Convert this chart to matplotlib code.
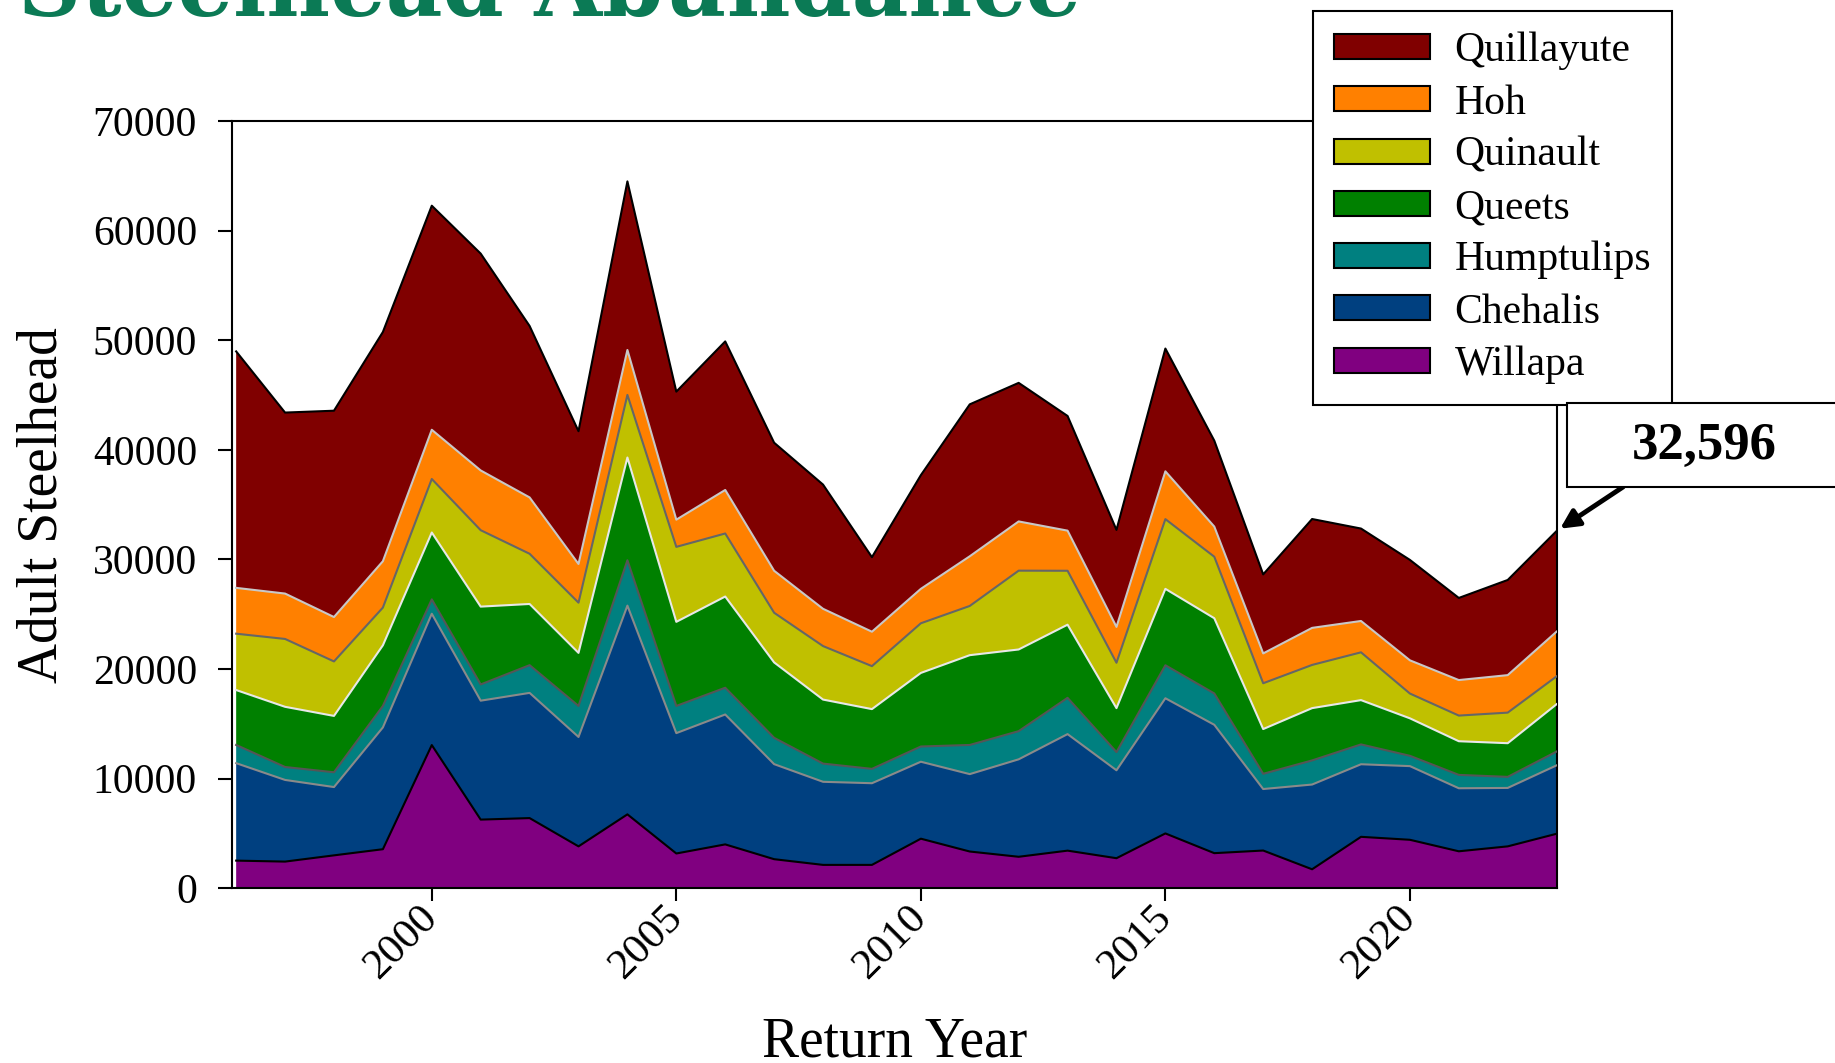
import numpy as np
import matplotlib; matplotlib.use('Agg')
import matplotlib.pyplot as plt
from matplotlib.patches import Patch, Rectangle

plt.rcParams['font.family'] = ['Liberation Serif', 'DejaVu Serif']

years = np.arange(1996, 2024)

willapa = [2530, 2440, 3010, 3570, 13070, 6270, 6410, 3830, 6750, 3180,
           4010, 2660, 2140, 2140, 4530, 3360, 2880, 3440, 2750, 5010,
           3210, 3450, 1740, 4700, 4430, 3380, 3830, 4980]
chehalis = [8890, 7450, 6230, 11110, 11980, 10850, 11420, 9980, 19040, 10980,
            11850, 8670, 7580, 7450, 7020, 7060, 8890, 10630, 8020, 12330,
            11710, 5610, 7730, 6620, 6720, 5750, 5330, 6240]
humptulips = [1660, 1180, 1350, 1960, 1310, 1480, 2530, 2830, 4140, 2480,
              2440, 2400, 1660, 1310, 1390, 2660, 2570, 3310, 1660, 3010,
              2860, 1390, 2200, 1810, 940, 1220, 1010, 1260]
queets = [5010, 5490, 5140, 5530, 6100, 7100, 5580, 4840, 9370, 7670,
          8320, 6880, 5840, 5450, 6710, 8190, 7450, 6670, 4010, 6970,
          6860, 4080, 4770, 4040, 3420, 3070, 3070, 4320]
quinault = [5140, 6190, 4970, 3440, 4880, 6970, 4580, 4580, 5710, 6840,
            5750, 4530, 4880, 3920, 4530, 4490, 7190, 4920, 4140, 6360,
            5610, 4180, 3940, 4360, 2260, 2340, 2790, 2540]
hoh = [4180, 4140, 4050, 4230, 4490, 5450, 5140, 3530, 4100, 2480,
       3970, 3830, 3400, 3140, 3140, 4530, 4490, 3660, 3270, 4360,
       2750, 2720, 3380, 2860, 3030, 3240, 3420, 4080]
quillayute = [21570, 16510, 18820, 20910, 20440, 19780, 15640, 12110, 15380, 11680,
              13550, 11680, 11330, 6800, 10370, 13860, 12640, 10460, 8850, 11200,
              7840, 7210, 9930, 8430, 9160, 7490, 8680, 9180]

names = ['Willapa', 'Chehalis', 'Humptulips', 'Queets', 'Quinault', 'Hoh', 'Quillayute']
series = [willapa, chehalis, humptulips, queets, quinault, hoh, quillayute]
colors = ['#800080', '#004080', '#008080', '#008000', '#c0c000', '#ff8000', '#800000']
edges = ['black', '#8a8a8a', '#555555', '#e8e8e8', '#666666', '#c8c8c8', 'black']

last_total = 32596

fig = plt.figure(figsize=(18.35, 10.63), dpi=100)
ax = fig.add_axes([0.1263, 0.1643, 0.8483 - 0.1263, 0.8862 - 0.1643])

base = np.zeros(len(years))
for vals, c, ec in zip(series, colors, edges):
    top = base + np.array(vals)
    ax.fill_between(years, base, top, facecolor=c, edgecolor='none', zorder=2)
    ax.plot(years, top, color=ec, lw=1.5, zorder=3)
    base = top

ax.set_xlim(1995.91, 2023)
ax.set_ylim(0, 70000)
ax.set_yticks(np.arange(0, 70001, 10000))
ax.set_xticks([2000, 2005, 2010, 2015, 2020])
ax.set_xticklabels(['2000', '2005', '2010', '2015', '2020'], rotation=45,
                   ha='right', va='center', rotation_mode='anchor')
ax.tick_params(axis='y', labelsize=30, length=10, width=1.5, pad=15)
ax.tick_params(axis='x', labelsize=31, length=9, width=1.5, pad=8)
for s in ax.spines.values():
    s.set_linewidth(1.5)

ax.set_xlabel('Return Year', fontsize=40)
ax.xaxis.set_label_coords(0.5, -0.201)
ax.xaxis.label.set_va('center')
ax.set_ylabel('Adult Steelhead', fontsize=40)
ax.yaxis.set_label_coords(-0.143, 0.5)
ax.yaxis.label.set_va('center')

handles = [Patch(facecolor=c, edgecolor='black', lw=1.5) for c in colors[::-1]]
leg = ax.legend(handles, names[::-1], loc='upper left',
                bbox_to_anchor=(1313 / 1835, 1 - 11 / 1063),
                bbox_transform=fig.transFigure, borderaxespad=0,
                fontsize=30, fancybox=False, framealpha=1, edgecolor='black',
                handlelength=2.3, handleheight=0.55, handletextpad=0.6,
                labelspacing=0.33, borderpad=0.5)
leg.get_frame().set_linewidth(1.5)

# callout for the latest year
ax.annotate('', xy=(years[-1], last_total), xytext=(0.8845, 0.5419),
            textcoords='figure fraction',
            arrowprops=dict(arrowstyle='-|>', lw=3.5, color='black',
                            mutation_scale=28, shrinkA=0, shrinkB=3))
fig.patches.append(Rectangle((0.8538, 0.5421), 0.2, 0.6212 - 0.5421,
                             transform=fig.transFigure, facecolor='white',
                             edgecolor='black', lw=1.5, zorder=5))
fig.text(0.9289, 0.5804, f'{last_total:,}', fontsize=38, fontweight='bold',
         ha='center', va='center', zorder=6)

fig.text(18 / 1835, 1 - 16 / 1063, 'Steelhead Abundance', color='#0b7a55',
         fontsize=63, fontweight='bold', family='DejaVu Serif', va='baseline')

fig.savefig('out.png', dpi=100)
